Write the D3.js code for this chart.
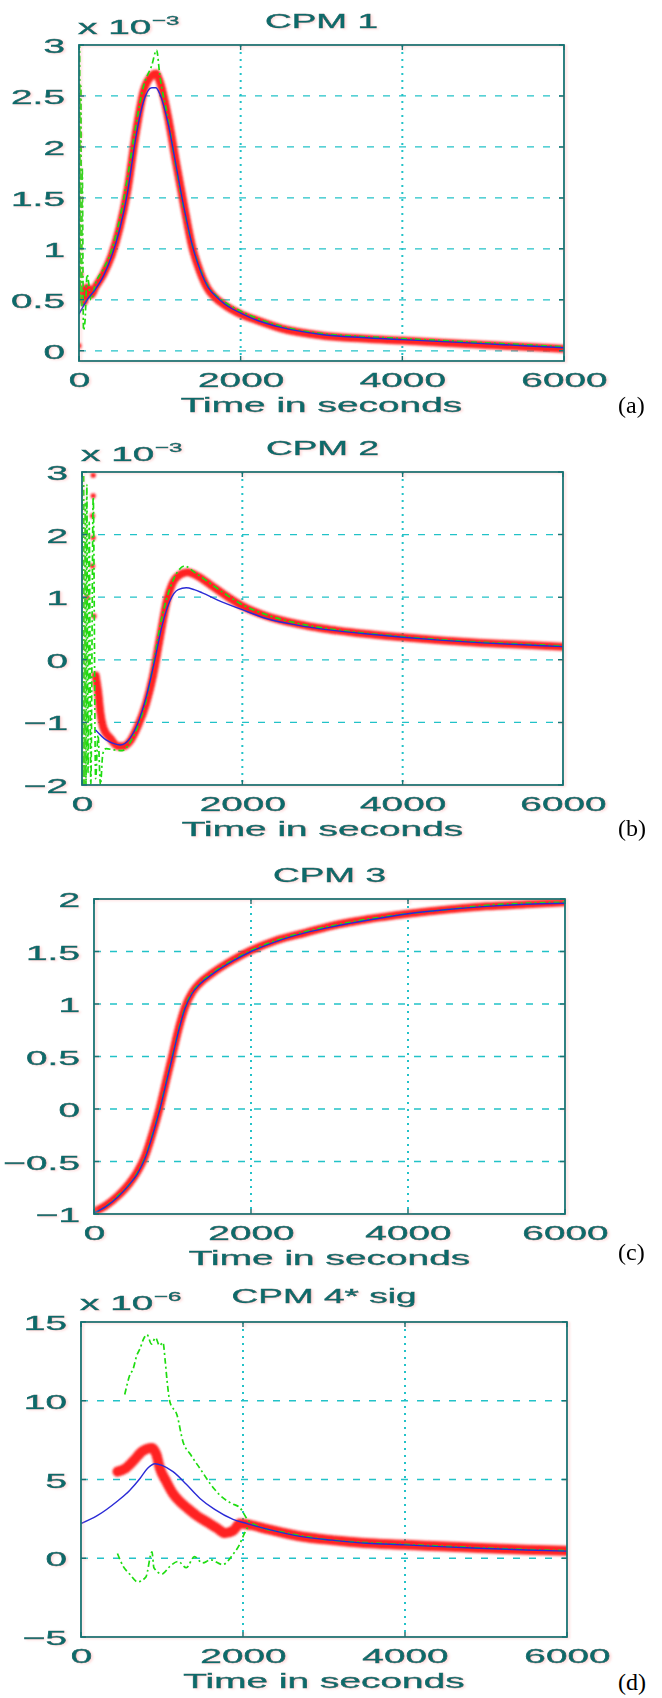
<!DOCTYPE html>
<html>
<head>
<meta charset="utf-8">
<script src="https://cdn.jsdelivr.net/npm/d3@7"></script>
<style>
  body { margin: 0; background: #fff; }
  svg { display: block; }
</style>
</head>
<body>
<div id="chart"></div>
<script>
const width = 662;
const height = 1698;

// ---- data: [time in s, value] ----
const timeTicks = [0, 2000, 4000, 6000];

const cpm1Ticks = [0, 0.5, 1, 1.5, 2, 2.5, 3];
const cpm1Blue = [[0,0.36],[100,0.5],[200,0.6],[300,0.73],[400,0.92],[500,1.18],[600,1.55],[700,2.08],[800,2.45],[900,2.58],[950,2.58],[1000,2.52],[1100,2.24],[1200,1.82],[1300,1.4],[1400,1.04],[1500,0.79],[1600,0.62],[1700,0.53],[1800,0.46],[1900,0.41],[2000,0.37],[2200,0.3],[2500,0.23],[3000,0.16],[3500,0.13],[4000,0.11],[4500,0.09],[5000,0.07],[5500,0.05],[6000,0.03]];
const cpm1Red = [[30,0.6],[60,0.48],[100,0.62],[150,0.55],[200,0.62],[300,0.75],[400,0.93],[500,1.2],[600,1.58],[700,2.12],[800,2.55],[900,2.7],[950,2.72],[1000,2.64],[1100,2.3],[1200,1.85],[1300,1.42],[1400,1.02],[1500,0.77],[1600,0.6],[1700,0.51],[1800,0.45],[1900,0.4],[2000,0.36],[2200,0.3],[2500,0.22],[3000,0.15],[3500,0.12],[4000,0.1],[4500,0.08],[5000,0.06],[5500,0.04],[6000,0.02]];
const cpm1RedDots = [[0,2.12],[0,0.05],[10,0.62],[20,0.75]];
const cpm1Green = [[0,0.5],[8,3.0],[16,0.5],[24,2.6],[32,0.4],[40,1.8],[55,0.2],[75,0.3],[100,0.75],[150,0.5],[200,0.65],[300,0.8],[400,0.98],[500,1.28],[600,1.7],[700,2.2],[800,2.6],[900,2.8],[960,2.95],[1000,2.7],[1100,2.28],[1200,1.8],[1300,1.38],[1400,1.04],[1500,0.8],[1600,0.63],[1700,0.54],[1800,0.48],[1900,0.43],[2000,0.39],[2200,0.32],[2500,0.24],[3000,0.17],[3500,0.14],[4000,0.12],[4500,0.1],[5000,0.08],[5500,0.06],[6000,0.04]];

const cpm2Ticks = [-2, -1, 0, 1, 2, 3];
const cpm2Blue = [[170,-1.12],[300,-1.28],[400,-1.34],[475,-1.36],[600,-1.25],[700,-1.0],[800,-0.6],[900,-0.05],[1000,0.55],[1100,0.95],[1200,1.12],[1300,1.15],[1400,1.12],[1500,1.07],[1700,0.95],[2000,0.8],[2300,0.66],[2700,0.55],[3000,0.49],[3500,0.42],[4000,0.36],[4500,0.31],[5000,0.27],[5500,0.24],[6000,0.21]];
const cpm2Red = [[170,-0.25],[200,-0.5],[230,-0.85],[270,-1.1],[350,-1.25],[450,-1.38],[520,-1.38],[600,-1.3],[700,-1.05],[800,-0.7],[885,-0.26],[970,0.34],[1060,0.95],[1180,1.32],[1320,1.4],[1450,1.33],[1600,1.2],[1800,1.02],[2000,0.86],[2300,0.7],[2700,0.57],[3000,0.5],[3500,0.42],[4000,0.36],[4500,0.31],[5000,0.27],[5500,0.24],[6000,0.21]];
const cpm2RedDots = [[140,2.95],[140,2.62],[130,2.3],[140,1.95],[130,1.5],[60,1.0],[150,0.7]];
const cpm2Green = [[0,3],[10,-2],[20,3],[30,-2],[40,2.5],[50,-2],[60,2.8],[75,-1.8],[90,2.2],[110,-2],[140,2.6],[170,-1.9],[200,-1.2],[230,-2],[260,-1.5],[300,-1.42],[400,-1.44],[500,-1.45],[600,-1.32],[700,-1.05],[800,-0.65],[900,0.0],[1000,0.7],[1100,1.15],[1200,1.42],[1280,1.5],[1400,1.4],[1600,1.22],[1800,1.04],[2000,0.88],[2300,0.72],[2700,0.58],[3000,0.51],[3500,0.43],[4000,0.37],[4500,0.32],[5000,0.28],[5500,0.25],[6000,0.22]];

const cpm3Ticks = [-1, -0.5, 0, 0.5, 1, 1.5, 2];
const cpm3Blue = [[0,-0.99],[150,-0.93],[300,-0.84],[450,-0.72],[550,-0.62],[650,-0.47],[750,-0.24],[840,0.0],[920,0.25],[1000,0.5],[1080,0.75],[1160,0.96],[1250,1.1],[1350,1.19],[1500,1.28],[1770,1.41],[2000,1.5],[2300,1.59],[2700,1.68],[3000,1.73],[3500,1.8],[4000,1.86],[4500,1.9],[5000,1.93],[5500,1.95],[6000,1.96]];
const cpm3Red = [[0,-0.98],[150,-0.92],[300,-0.83],[450,-0.71],[550,-0.6],[650,-0.45],[750,-0.22],[840,0.02],[920,0.27],[1000,0.52],[1080,0.77],[1160,0.97],[1250,1.11],[1350,1.2],[1500,1.29],[1770,1.42],[2000,1.51],[2300,1.6],[2700,1.68],[3000,1.74],[3500,1.81],[4000,1.86],[4500,1.9],[5000,1.93],[5500,1.95],[6000,1.97]];
const cpm3Green = [[0,-0.99],[150,-0.93],[300,-0.83],[450,-0.72],[550,-0.61],[650,-0.46],[750,-0.23],[840,0.01],[920,0.26],[1000,0.51],[1080,0.76],[1160,0.97],[1250,1.11],[1350,1.2],[1500,1.29],[1770,1.42],[2000,1.51],[2300,1.6],[2700,1.69],[3000,1.74],[3500,1.81],[4000,1.86],[4500,1.9],[5000,1.94],[5500,1.96],[6000,1.97]];

const cpm4Ticks = [-5, 0, 5, 10, 15];
const cpm4Blue = [[0,2.2],[200,2.7],[444,3.6],[600,4.3],[728,5.06],[820,5.7],[914,6.0],[1000,5.9],[1136,5.5],[1300,4.7],[1469,3.8],[1650,3.1],[1877,2.47],[2049,2.2],[2300,1.85],[2704,1.39],[3100,1.15],[3530,0.95],[4000,0.85],[4500,0.72],[5000,0.62],[5500,0.52],[6000,0.45]];
const cpm4Red = [[450,5.5],[550,5.7],[650,6.2],[760,6.8],[876,7.0],[930,6.6],[975,5.7],[1050,4.9],[1136,4.1],[1220,3.6],[1309,3.2],[1430,2.7],[1556,2.3],[1680,1.9],[1780,1.6],[1880,1.75],[1963,2.2],[2100,2.1],[2300,1.85],[2700,1.4],[3100,1.15],[3500,0.97],[4000,0.86],[4500,0.74],[5000,0.63],[5500,0.54],[6000,0.47]];
const cpm4GreenUpper = [[540,10.4],[568,11.0],[600,11.6],[642,12.0],[690,12.9],[728,13.3],[770,13.9],[815,14.2],[870,13.6],[920,14.0],[970,13.5],[1012,13.7],[1040,12.5],[1062,11.3],[1099,9.9],[1185,9.1],[1259,7.4],[1350,6.6],[1469,5.7],[1600,4.7],[1716,4.0],[1850,3.5],[1963,3.2],[2050,2.5],[2200,2.0],[2500,1.65],[3000,1.2],[3500,1.0],[4000,0.88],[4500,0.76],[5000,0.65],[5500,0.55],[6000,0.48]];
const cpm4GreenLower = [[450,0.3],[520,-0.5],[600,-1.0],[700,-1.5],[800,-1.2],[876,0.4],[900,-0.6],[1000,-1.0],[1100,-0.5],[1200,-0.2],[1300,-0.6],[1400,0.1],[1500,-0.3],[1600,-0.1],[1750,-0.4],[1877,0.25],[1950,0.8],[2020,1.6],[2080,2.15]];

const titles = ["CPM 1", "CPM 2", "CPM 3", "CPM 4* sig"];
const exponents = ["−3", "−3", null, "−6"];
const letters = ["(a)", "(b)", "(c)", "(d)"];

const panels = [
    { yDomain: [-0.1, 3], yTicks: cpm1Ticks, red: cpm1Red, redDots: cpm1RedDots, green: [cpm1Green], blue: cpm1Blue },
    { yDomain: [-2, 3], yTicks: cpm2Ticks, red: cpm2Red, redDots: cpm2RedDots, green: [cpm2Green], blue: cpm2Blue },
    { yDomain: [-1, 2], yTicks: cpm3Ticks, red: cpm3Red, redDots: [], green: [cpm3Green], blue: cpm3Blue },
    { yDomain: [-5, 15], yTicks: cpm4Ticks, red: cpm4Red, redDots: [], green: [cpm4GreenUpper, cpm4GreenLower], blue: cpm4Blue }
];

// ---- layout / style ----
const layout = [
    { left: 79, right: 564, top: 45, bottom: 361, letterY: 413, redWidth: 8, titleDy: 17, expDy: 11 },
    { left: 82, right: 563, top: 472, bottom: 785, letterY: 836, redWidth: 8, titleDy: 17, expDy: 11 },
    { left: 94, right: 565, top: 899, bottom: 1214, letterY: 1260, redWidth: 8, titleDy: 17, expDy: 11 },
    { left: 81, right: 567, top: 1322, bottom: 1637, letterY: 1690, redWidth: 10, titleDy: 19, expDy: 12 }
];

const stretch = 1.85;              // the original lettering is very wide
const font = "'Liberation Sans', Arial, Helvetica, sans-serif";
const textColor = "#0f6a6a";
const frameColor = "#167474";
const gridColor = "#22c2c8";
const redColor = "#ff2020";
const greenColor = "#1edc10";
const blueColor = "#2a2ad6";
const fmt = d3.format("~g");

const svg = d3.select("#chart").append("svg")
    .attr("width", width)
    .attr("height", height)
    .attr("viewBox", `0 0 ${width} ${height}`);

const defs = svg.append("defs");

const fringe = defs.append("filter").attr("id", "fringe")
    .attr("filterUnits", "userSpaceOnUse")
    .attr("x", 0).attr("y", 0).attr("width", width).attr("height", height);
fringe.append("feColorMatrix").attr("in", "SourceAlpha").attr("type", "matrix")
    .attr("values", "0 0 0 0 1  0 0 0 0 0.35  0 0 0 0 0.35  0 0 0 0.35 0").attr("result", "r");
fringe.append("feOffset").attr("in", "r").attr("dx", 2).attr("dy", 1).attr("result", "ro");
fringe.append("feGaussianBlur").attr("in", "ro").attr("stdDeviation", 0.8).attr("result", "rb");
const fm = fringe.append("feMerge");
fm.append("feMergeNode").attr("in", "rb");
fm.append("feMergeNode").attr("in", "SourceGraphic");

defs.append("filter").attr("id", "soft")
    .attr("filterUnits", "userSpaceOnUse")
    .attr("x", 0).attr("y", 0).attr("width", width).attr("height", height)
    .append("feGaussianBlur").attr("stdDeviation", 1.1);

const wideText = (g, x, y, str, size, anchor) => g.append("text")
    .attr("transform", `translate(${x},${y}) scale(${stretch},1)`)
    .attr("text-anchor", anchor || "start")
    .attr("font-family", font)
    .attr("font-size", size)
    .attr("fill", textColor)
    .attr("stroke", textColor)
    .attr("stroke-width", 0.45)
    .text(str);

panels.forEach((p, i) => {
    const L = layout[i];
    const x = d3.scaleLinear().domain([0, 6000]).range([L.left, L.right]);
    const y = d3.scaleLinear().domain(p.yDomain).range([L.bottom, L.top]);
    const line = d3.line().x(d => x(d[0])).y(d => y(d[1])).curve(d3.curveMonotoneX);

    defs.append("clipPath").attr("id", "clip" + i)
        .append("rect")
        .attr("x", L.left).attr("y", L.top)
        .attr("width", L.right - L.left).attr("height", L.bottom - L.top);

    const g = svg.append("g");

    // grid
    const grid = g.append("g").attr("stroke", gridColor).attr("stroke-width", 1.3).attr("fill", "none");
    grid.selectAll(".hgrid")
        .data(p.yTicks.filter(v => y(v) > L.top + 1 && y(v) < L.bottom - 1))
        .join("line")
        .attr("x1", L.left).attr("x2", L.right)
        .attr("y1", d => y(d)).attr("y2", d => y(d))
        .attr("stroke-dasharray", "7,9");
    grid.selectAll(".vgrid")
        .data(timeTicks.filter(t => t > 0 && t < 6000))
        .join("line")
        .attr("x1", d => x(d)).attr("x2", d => x(d))
        .attr("y1", L.top).attr("y2", L.bottom)
        .attr("stroke-width", 2)
        .attr("stroke-dasharray", "2,5");

    // curves
    const plot = g.append("g").attr("clip-path", `url(#clip${i})`);
    plot.append("path").datum(p.red)
        .attr("d", line)
        .attr("fill", "none")
        .attr("stroke", redColor)
        .attr("stroke-width", L.redWidth)
        .attr("stroke-linecap", "round")
        .attr("stroke-linejoin", "round")
        .attr("filter", "url(#soft)");
    plot.selectAll(".rdot").data(p.redDots).join("circle")
        .attr("cx", d => x(d[0])).attr("cy", d => y(d[1]))
        .attr("r", 2.6)
        .attr("fill", redColor)
        .attr("filter", "url(#soft)");
    p.green.forEach(series => {
        plot.append("path").datum(series)
            .attr("d", line)
            .attr("fill", "none")
            .attr("stroke", greenColor)
            .attr("stroke-width", 1.7)
            .attr("stroke-dasharray", "6,3,2,3");
    });
    plot.append("path").datum(p.blue)
        .attr("d", line)
        .attr("fill", "none")
        .attr("stroke", blueColor)
        .attr("stroke-width", 1.4);

    // frame, ticks and text
    const fr = g.append("g").attr("filter", "url(#fringe)");
    fr.append("rect")
        .attr("x", L.left).attr("y", L.top)
        .attr("width", L.right - L.left).attr("height", L.bottom - L.top)
        .attr("fill", "none")
        .attr("stroke", frameColor)
        .attr("stroke-width", 1.8);

    const tk = fr.append("g").attr("stroke", frameColor).attr("stroke-width", 1.5);
    tk.selectAll(".xt").data(timeTicks).join("path")
        .attr("d", d => `M${x(d)},${L.bottom}v-5M${x(d)},${L.top}v5`);
    tk.selectAll(".yt").data(p.yTicks).join("path")
        .attr("d", d => `M${L.left},${y(d)}h5M${L.right},${y(d)}h-5`);

    const xAxis = fr.append("g")
        .attr("transform", `translate(0,${L.bottom})`)
        .call(d3.axisBottom(x).tickValues(timeTicks).tickSize(0).tickFormat(fmt));
    xAxis.select(".domain").remove();
    xAxis.attr("font-family", font).attr("font-size", 21).style("color", textColor);
    xAxis.selectAll("text")
        .attr("y", 26).attr("dy", null)
        .attr("stroke", textColor).attr("stroke-width", 0.45)
        .attr("transform", `scale(${stretch},1)`);

    const yAxis = fr.append("g")
        .attr("transform", `translate(${L.left},0)`)
        .call(d3.axisLeft(y).tickValues(p.yTicks).tickSize(0).tickFormat(fmt));
    yAxis.select(".domain").remove();
    yAxis.attr("font-family", font).attr("font-size", 21).style("color", textColor);
    yAxis.selectAll("text")
        .attr("x", -14 / stretch).attr("dy", "0.36em")
        .attr("stroke", textColor).attr("stroke-width", 0.45)
        .attr("transform", `scale(${stretch},1)`);

    wideText(fr, (L.left + L.right) / 2, L.top - L.titleDy, titles[i], 20, "middle");
    wideText(fr, (L.left + L.right) / 2, L.bottom + 51, "Time in seconds", 21, "middle");

    if (exponents[i]) {
        wideText(fr, L.left - 1, L.top - L.expDy, "x 10", 21);
        wideText(fr, L.left + 73, L.top - L.expDy - 9, exponents[i], 13);
    }

    svg.append("text")
        .attr("x", 618).attr("y", L.letterY)
        .attr("font-family", "'Liberation Serif', 'Times New Roman', serif")
        .attr("font-size", 24)
        .attr("fill", "#000")
        .text(letters[i]);
});
</script>
</body>
</html>
